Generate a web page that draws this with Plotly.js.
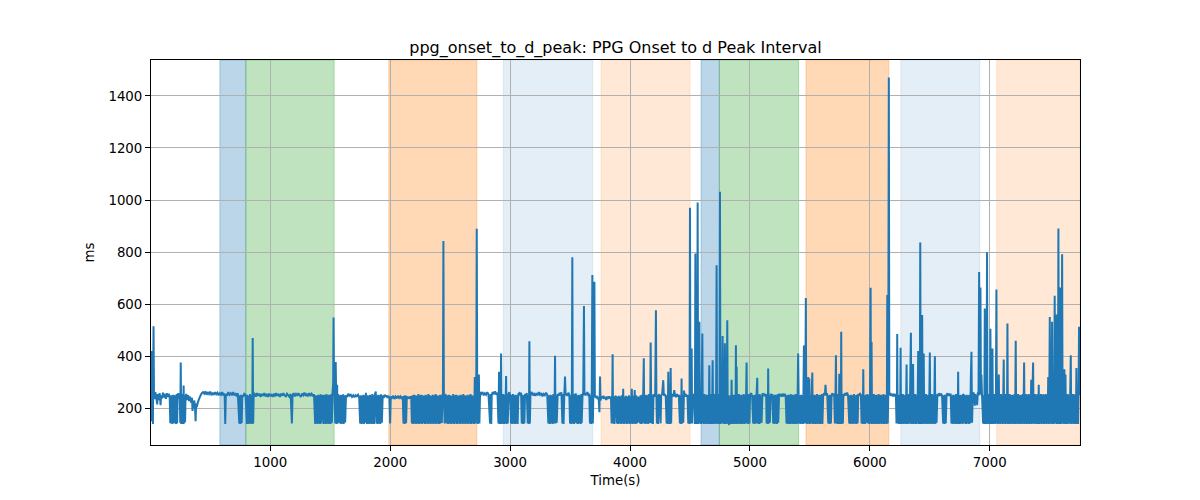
<!DOCTYPE html>
<html>
<head>
<meta charset="utf-8">
<script src="https://cdn.plot.ly/plotly-3.0.1.min.js"></script>
<style>html,body{margin:0;padding:0;background:#fff;}#chart{width:1200px;height:500px;}</style>
</head>
<body>
<div id="chart"></div>
<script>
// ---- Data (time in s, interval in ms) ----
const seg0000 = [[6,250],[10,150],[14,420],[18,255],[22,140],[27,515],[31,250],[36,235],[42,262],[50,240],[58,215],[62,255],[70,232],[78,258],[86,212],[90,250],[98,238],[106,260],[114,242],[122,255],[130,236],[138,258],[146,244],[154,256],[162,240],[167,143],[172,250],[176,142],[181,248],[186,140],[190,252],[194,145],[198,250],[204,238],[208,142],[212,250],[216,140],[220,255],[224,143],[228,246],[234,258],[240,236],[246,252],[250,145],[254,376],[258,140],[262,250],[266,142],[270,255],[274,140],[278,288],[282,142],[286,250],[290,146],[294,240],[300,255],[308,232],[316,250],[324,228],[332,245],[340,222],[348,240],[352,190],[356,225],[362,200],[366,230],[372,212],[378,150],[382,218],[388,205],[396,222],[404,232],[412,242],[420,250],[430,258],[440,262],[450,256],[460,265],[470,252],[480,262],[490,255],[500,264],[510,250],[520,260],[530,252],[540,262],[550,254],[560,260],[570,250],[580,258],[590,252],[600,262],[610,250],[620,256],[625,140],[630,255],[640,248],[650,262],[660,252],[670,258],[680,250],[690,262],[700,250],[710,258],[720,246],[730,258],[742,142],[746,250],[750,140],[756,252],[762,143],[767,250],[775,245],[785,258],[795,248],[806,140],[810,252],[815,142],[820,248],[826,140],[832,255],[838,142],[844,250],[850,140],[854,470],[858,142],[862,250],[870,255],[880,245],[890,258],[900,248],[910,256],[920,244],[930,255],[940,248],[950,258],[960,246],[970,255],[980,244],[990,256],[1000,248]];
const seg1000 = [[1010,252],[1020,244],[1030,256],[1040,246],[1050,258],[1060,248],[1070,255],[1080,244],[1090,256],[1100,248],[1110,258],[1120,250],[1130,246],[1140,256],[1150,250],[1160,244],[1170,255],[1181,142],[1186,250],[1195,258],[1205,246],[1215,255],[1225,248],[1235,258],[1245,250],[1255,244],[1265,256],[1275,250],[1285,260],[1295,248],[1305,254],[1315,246],[1325,258],[1335,250],[1345,256],[1355,246],[1365,254],[1375,140],[1380,250],[1385,142],[1390,248],[1395,140],[1400,252],[1405,143],[1410,250],[1415,140],[1420,254],[1425,142],[1431,250],[1438,246],[1444,140],[1449,252],[1454,142],[1459,250],[1464,140],[1469,255],[1474,143],[1479,250],[1484,140],[1489,252],[1494,142],[1499,250],[1504,140],[1509,255],[1514,145],[1520,262],[1525,300],[1528,549],[1532,280],[1536,260],[1542,142],[1546,378],[1550,250],[1554,140],[1558,290],[1562,142],[1566,255],[1569,146],[1575,250],[1583,142],[1588,252],[1593,140],[1598,250],[1603,142],[1608,254],[1613,140],[1618,250],[1625,146],[1632,250],[1642,244],[1652,256],[1662,248],[1672,252],[1682,244],[1692,250],[1702,242],[1712,250],[1722,246],[1732,252],[1742,242],[1750,142],[1755,250],[1760,140],[1766,248],[1771,142],[1776,252],[1781,140],[1786,250],[1792,145],[1798,260],[1806,140],[1811,250],[1816,142],[1821,248],[1826,140],[1831,252],[1836,142],[1841,250],[1846,140],[1851,255],[1856,142],[1861,250],[1866,140],[1872,252],[1880,264],[1886,142],[1891,250],[1896,140],[1902,252],[1907,142],[1912,250],[1918,140],[1924,254],[1931,145],[1938,250],[1946,240],[1954,252],[1962,244],[1970,250],[1978,240],[1986,248],[1994,238]];
const seg2000 = [[2000,142],[2005,245],[2015,240],[2025,248],[2035,236],[2045,245],[2055,238],[2065,248],[2075,240],[2085,246],[2095,236],[2105,245],[2111,142],[2116,248],[2121,140],[2127,250],[2133,143],[2139,246],[2147,236],[2155,244],[2163,238],[2171,246],[2176,238],[2181,142],[2187,250],[2193,140],[2199,252],[2205,142],[2211,250],[2217,140],[2223,248],[2229,142],[2235,255],[2241,140],[2247,250],[2253,142],[2259,252],[2265,140],[2271,250],[2277,143],[2283,248],[2289,140],[2295,252],[2301,142],[2307,250],[2313,140],[2319,255],[2325,142],[2331,250],[2337,140],[2343,248],[2349,142],[2355,252],[2361,140],[2367,250],[2373,142],[2379,255],[2385,140],[2391,250],[2397,142],[2403,248],[2409,140],[2415,252],[2421,142],[2427,250],[2431,144],[2436,255],[2440,246],[2444,843],[2448,250],[2454,142],[2460,255],[2466,246],[2472,142],[2478,250],[2484,140],[2490,252],[2496,142],[2502,250],[2508,140],[2514,248],[2520,142],[2526,255],[2532,140],[2538,250],[2544,142],[2550,252],[2556,140],[2562,250],[2568,142],[2574,248],[2580,140],[2586,252],[2592,142],[2598,250],[2604,140],[2610,255],[2616,142],[2622,250],[2628,140],[2634,248],[2640,142],[2646,252],[2652,140],[2658,250],[2664,142],[2670,255],[2676,140],[2682,250],[2688,142],[2694,248],[2700,140],[2706,320],[2712,142],[2718,280],[2722,890],[2726,250],[2730,140],[2736,258],[2740,330],[2744,142],[2750,262],[2760,255],[2770,262],[2780,250],[2790,258],[2800,252],[2810,262],[2820,254],[2833,142],[2838,255],[2843,140],[2847,250],[2855,262],[2865,256],[2875,265],[2885,252],[2895,260],[2903,142],[2908,340],[2913,140],[2918,252],[2922,142],[2925,410],[2929,140],[2934,250],[2939,142],[2944,255],[2949,140],[2954,250],[2959,142],[2964,260],[2967,324],[2971,140],[2976,250],[2981,142],[2986,255],[2993,262],[3000,250]];
const seg3000 = [[3008,142],[3013,252],[3018,140],[3024,255],[3029,142],[3035,250],[3040,140],[3046,252],[3052,142],[3058,250],[3063,140],[3069,255],[3077,258],[3085,250],[3092,260],[3097,142],[3102,252],[3107,140],[3113,250],[3119,142],[3125,255],[3132,250],[3140,258],[3147,142],[3152,250],[3157,140],[3161,458],[3165,142],[3170,255],[3180,262],[3190,250],[3200,256],[3210,248],[3220,258],[3230,250],[3240,262],[3250,252],[3260,258],[3270,246],[3280,255],[3290,250],[3300,260],[3310,252],[3319,142],[3325,250],[3331,140],[3337,252],[3343,142],[3349,250],[3355,140],[3361,255],[3367,142],[3372,250],[3375,402],[3379,142],[3384,250],[3389,145],[3397,255],[3405,248],[3413,260],[3421,250],[3428,262],[3436,142],[3441,255],[3446,140],[3452,250],[3458,322],[3463,250],[3470,256],[3478,248],[3486,260],[3494,252],[3500,142],[3505,250],[3510,140],[3515,252],[3519,780],[3523,142],[3528,250],[3533,140],[3537,255],[3541,145],[3548,258],[3555,142],[3560,250],[3565,140],[3571,252],[3577,142],[3583,250],[3589,140],[3594,255],[3597,144],[3604,250],[3610,262],[3616,593],[3620,250],[3628,258],[3636,250],[3644,262],[3652,252],[3660,256],[3666,142],[3671,250],[3676,140],[3681,252],[3686,712],[3690,142],[3694,250],[3699,256],[3703,686],[3707,250],[3714,240],[3722,248],[3730,235],[3738,244],[3745,185],[3750,322],[3754,230],[3762,245],[3770,238],[3778,248],[3786,236],[3794,244],[3802,232],[3810,245],[3818,236],[3826,246],[3834,238],[3841,244],[3847,142],[3852,245],[3855,408],[3859,142],[3864,245],[3869,140],[3875,242],[3882,248],[3889,142],[3895,245],[3901,140],[3907,248],[3913,142],[3919,245],[3925,140],[3931,250],[3937,142],[3943,275],[3949,140],[3955,245],[3961,142],[3967,248],[3973,140],[3979,245],[3985,142],[3991,250],[3997,140],[4003,245],[4009,142],[4015,275],[4021,140],[4027,248],[4033,142],[4039,270],[4045,140],[4051,250],[4057,142],[4063,245],[4069,146],[4076,245]];
const seg4000 = [[4083,142],[4088,250],[4093,140],[4099,252],[4104,142],[4110,250],[4115,392],[4119,142],[4125,250],[4130,140],[4136,252],[4141,142],[4147,250],[4152,140],[4158,255],[4164,144],[4169,250],[4172,453],[4176,250],[4180,142],[4186,250],[4191,140],[4196,255],[4203,245],[4210,255],[4216,577],[4220,250],[4224,142],[4229,250],[4234,140],[4240,255],[4247,245],[4255,142],[4260,250],[4268,255],[4277,308],[4282,248],[4290,255],[4298,245],[4305,142],[4310,250],[4315,140],[4319,340],[4323,142],[4328,250],[4333,140],[4339,355],[4343,142],[4347,250],[4354,255],[4362,245],[4369,270],[4375,250],[4383,243],[4391,255],[4399,245],[4407,252],[4416,142],[4421,250],[4426,140],[4430,314],[4434,142],[4439,250],[4444,145],[4450,268],[4458,245],[4465,255],[4472,244],[4479,252],[4486,142],[4491,250],[4496,140],[4500,970],[4504,142],[4509,250],[4514,430],[4518,142],[4524,255],[4530,245],[4536,256],[4541,140],[4545,795],[4549,142],[4553,250],[4557,140],[4561,300],[4564,991],[4568,140],[4573,250],[4578,532],[4582,142],[4587,250],[4592,140],[4597,255],[4603,487],[4607,142],[4612,250],[4617,140],[4622,255],[4627,142],[4632,250],[4637,140],[4642,252],[4647,142],[4652,250],[4657,140],[4661,365],[4665,142],[4670,250],[4675,140],[4680,255],[4684,142],[4689,385],[4693,140],[4698,250],[4703,142],[4708,255],[4713,140],[4718,250],[4722,750],[4726,142],[4731,250],[4736,140],[4741,255],[4746,142],[4750,1032],[4754,140],[4759,250],[4764,142],[4768,260],[4772,478],[4776,142],[4781,250],[4786,140],[4791,450],[4795,142],[4800,250],[4805,140],[4811,538],[4815,142],[4820,250],[4825,140],[4833,142],[4838,250],[4843,140],[4847,310],[4851,142],[4856,250],[4861,140],[4866,252],[4871,142],[4876,250],[4880,140],[4883,442],[4886,142],[4889,360],[4893,140],[4898,250],[4903,142],[4908,255],[4913,140],[4918,250],[4923,142],[4928,252],[4933,140],[4938,250],[4943,142],[4948,255],[4953,140],[4958,250],[4963,142],[4968,250],[4972,376],[4976,142],[4981,250],[4986,140],[4991,255],[4996,142],[5001,250]];
const seg5000 = [[5010,258],[5018,248],[5027,142],[5032,250],[5037,140],[5043,252],[5049,142],[5055,250],[5061,317],[5065,142],[5070,250],[5075,140],[5081,255],[5087,142],[5092,250],[5097,145],[5104,258],[5112,248],[5120,256],[5128,246],[5135,255],[5139,142],[5144,250],[5149,140],[5152,353],[5156,142],[5161,250],[5166,145],[5173,256],[5180,246],[5187,255],[5194,142],[5199,250],[5204,140],[5210,252],[5215,142],[5220,250],[5225,140],[5231,255],[5236,145],[5243,256],[5250,246],[5258,255],[5266,245],[5274,256],[5282,246],[5290,255],[5298,248],[5305,142],[5310,250],[5315,140],[5320,252],[5325,142],[5330,250],[5335,140],[5340,255],[5345,142],[5350,250],[5355,140],[5360,252],[5365,142],[5370,250],[5375,140],[5380,255],[5385,142],[5390,250],[5395,140],[5399,300],[5402,410],[5406,250],[5411,142],[5416,250],[5421,140],[5426,252],[5431,142],[5436,250],[5441,140],[5446,255],[5450,438],[5453,440],[5457,142],[5462,250],[5466,624],[5470,142],[5475,250],[5480,140],[5486,320],[5490,142],[5495,314],[5500,140],[5505,250],[5510,142],[5515,255],[5520,337],[5524,140],[5529,250],[5534,142],[5539,252],[5544,140],[5549,250],[5554,142],[5559,255],[5564,140],[5569,250],[5574,142],[5579,252],[5584,140],[5589,250],[5594,142],[5599,255],[5604,140],[5611,250],[5618,258],[5625,250],[5630,290],[5636,248],[5644,258],[5653,142],[5658,250],[5663,140],[5669,252],[5675,142],[5681,250],[5688,258],[5695,248],[5702,256],[5708,142],[5713,250],[5717,404],[5721,142],[5726,250],[5731,140],[5736,255],[5741,142],[5745,333],[5749,140],[5754,250],[5758,142],[5761,494],[5765,140],[5770,250],[5775,142],[5779,255],[5786,248],[5794,258],[5802,250],[5810,260],[5818,250],[5828,142],[5833,250],[5838,140],[5844,252],[5850,142],[5856,250],[5862,140],[5868,255],[5874,142],[5880,250],[5886,140],[5892,252],[5898,142],[5903,255],[5910,248],[5918,258],[5925,250],[5931,142],[5936,250],[5941,140],[5945,350],[5949,142],[5955,250],[5961,140],[5967,252],[5973,145],[5980,255],[5986,142],[5991,250],[5996,140],[6001,255],[6006,663],[6010,142],[6014,455],[6018,140],[6023,250],[6028,142],[6033,255],[6038,140],[6043,250],[6048,142],[6053,252],[6058,140],[6063,250],[6068,142],[6073,255],[6078,140],[6083,250],[6088,142],[6093,252],[6098,140],[6103,250],[6108,142],[6113,255],[6118,140],[6123,250],[6128,142],[6133,252],[6138,140],[6142,250],[6145,635],[6149,142],[6153,250],[6158,1471],[6162,250]];
const seg6000 = [[6170,258],[6178,248],[6186,256],[6194,246],[6202,255],[6210,246],[6217,256],[6222,142],[6226,250],[6228,485],[6232,142],[6237,250],[6242,140],[6247,252],[6252,142],[6256,433],[6260,140],[6265,250],[6270,142],[6275,255],[6280,140],[6285,250],[6290,142],[6295,252],[6300,140],[6306,368],[6310,142],[6315,250],[6320,140],[6325,255],[6330,142],[6335,250],[6342,490],[6346,140],[6351,250],[6356,142],[6360,370],[6364,140],[6369,250],[6374,142],[6379,255],[6384,140],[6389,250],[6394,142],[6399,255],[6403,420],[6407,140],[6412,250],[6416,142],[6420,837],[6424,140],[6429,250],[6433,142],[6436,558],[6440,140],[6445,250],[6449,410],[6453,142],[6458,250],[6463,140],[6468,255],[6473,142],[6478,250],[6483,140],[6488,252],[6493,142],[6500,414],[6504,140],[6509,250],[6514,142],[6519,255],[6524,140],[6529,250],[6534,142],[6538,255],[6542,400],[6546,140],[6551,250],[6556,145],[6563,256],[6570,246],[6578,258],[6586,248],[6594,256],[6602,248],[6611,142],[6616,250],[6621,140],[6627,252],[6633,142],[6639,250],[6646,258],[6653,248],[6660,256],[6667,248],[6674,256],[6680,142],[6685,250],[6690,140],[6696,252],[6702,142],[6708,250],[6713,140],[6718,255],[6722,142],[6727,250],[6732,140],[6736,340],[6740,142],[6745,250],[6750,140],[6756,252],[6762,142],[6768,250],[6773,140],[6777,255],[6784,250],[6791,142],[6796,250],[6801,140],[6807,252],[6813,142],[6819,250],[6824,140],[6830,252],[6836,142],[6842,320],[6847,417],[6852,145],[6858,255],[6866,260],[6875,210],[6880,255],[6885,215],[6890,250],[6894,212],[6900,258],[6906,262],[6911,724],[6915,250],[6918,300],[6922,664],[6926,255],[6930,330],[6935,250],[6944,142],[6949,250],[6954,140],[6958,583],[6962,142],[6967,250],[6972,140],[6977,799],[6981,142],[6986,250],[6991,140],[6996,255]];
const seg7000 = [[7001,142],[7005,506],[7009,140],[7014,250],[7018,142],[7022,430],[7026,140],[7031,250],[7036,142],[7041,255],[7046,140],[7051,250],[7055,656],[7059,142],[7064,250],[7069,140],[7075,330],[7079,142],[7084,250],[7089,140],[7094,255],[7099,142],[7104,250],[7109,140],[7116,387],[7120,142],[7125,250],[7130,140],[7135,255],[7140,142],[7144,250],[7147,526],[7151,140],[7156,250],[7161,142],[7166,255],[7171,140],[7176,250],[7181,142],[7186,252],[7191,140],[7196,250],[7201,142],[7206,255],[7211,140],[7216,459],[7220,142],[7225,250],[7230,140],[7235,255],[7240,142],[7245,250],[7250,140],[7255,252],[7260,142],[7265,250],[7270,140],[7275,255],[7280,142],[7286,376],[7290,140],[7295,250],[7300,142],[7305,255],[7310,140],[7315,250],[7320,142],[7325,255],[7330,140],[7335,250],[7340,142],[7345,310],[7350,140],[7355,250],[7361,376],[7365,142],[7370,250],[7375,140],[7380,255],[7385,142],[7390,250],[7395,140],[7400,255],[7404,142],[7408,290],[7412,140],[7417,250],[7422,142],[7427,255],[7432,140],[7437,250],[7442,142],[7447,255],[7452,140],[7457,250],[7462,142],[7467,255],[7472,140],[7477,250],[7482,142],[7487,320],[7491,140],[7496,250],[7500,551],[7504,142],[7509,250],[7514,140],[7519,532],[7523,142],[7528,250],[7533,140],[7537,255],[7541,632],[7545,142],[7550,250],[7555,560],[7559,140],[7564,250],[7568,142],[7572,891],[7576,140],[7581,250],[7585,142],[7589,664],[7593,140],[7598,250],[7603,792],[7607,142],[7612,250],[7617,140],[7622,350],[7626,142],[7631,330],[7635,140],[7640,250],[7645,142],[7650,255],[7655,140],[7660,250],[7665,142],[7670,255],[7675,404],[7679,140],[7684,250],[7689,142],[7694,255],[7699,140],[7704,250],[7709,142],[7714,255],[7718,140],[7722,355],[7726,142],[7731,250],[7736,140],[7740,255],[7744,513],[7748,250]];

// Shaded phase regions (start s, end s, colour)
const regionStart = [580, 797, 1989, 2944, 3758, 4592, 4745, 5467, 6258, 7058];
const regionEnd   = [797, 1533, 2723, 3689, 4500, 4745, 5406, 6158, 6917, 7752];
const regionColor = [
  'rgba(31,119,180,0.3)', 'rgba(44,160,44,0.3)', 'rgba(255,127,14,0.3)',
  'rgba(31,119,180,0.12)', 'rgba(255,127,14,0.17)',
  'rgba(31,119,180,0.3)', 'rgba(44,160,44,0.3)', 'rgba(255,127,14,0.3)',
  'rgba(31,119,180,0.12)', 'rgba(255,127,14,0.17)'
];

const xTicks = [1000, 2000, 3000, 4000, 5000, 6000, 7000];
const yTicks = [200, 400, 600, 800, 1000, 1200, 1400];
const xRange = [6, 7752];
const yRange = [59, 1538];

// ---- Build trace ----
const all = [].concat(seg0000, seg1000, seg2000, seg3000, seg4000, seg5000, seg6000, seg7000);
const xs = all.map(p => p[0]);
const ys = all.map(p => p[1]);

const shapes = regionStart.map((s, i) => ({
  type: 'rect', xref: 'x', yref: 'paper',
  x0: s, x1: regionEnd[i], y0: 0, y1: 1,
  fillcolor: regionColor[i],
  line: {color: regionColor[i], width: 1},
  layer: 'below'
}));

const font = {family: 'DejaVu Sans, sans-serif', size: 13.33, color: '#000'};

const layout = {
  width: 1200, height: 500,
  margin: {l: 151, r: 120, t: 60, b: 55, pad: 0},
  paper_bgcolor: '#fff', plot_bgcolor: 'rgba(0,0,0,0)',
  showlegend: false,
  font: font,
  title: {
    text: 'ppg_onset_to_d_peak: PPG Onset to d Peak Interval',
    font: {family: 'DejaVu Sans, sans-serif', size: 16, color: '#000'},
    x: 0.5, xref: 'paper', xanchor: 'center',
    y: 1, yref: 'paper', yanchor: 'bottom', pad: {b: 7}
  },
  xaxis: {
    range: xRange, tickvals: xTicks, ticktext: xTicks.map(String),
    showgrid: true, gridcolor: '#b0b0b0', gridwidth: 1,
    zeroline: false, showline: true, linecolor: '#000', linewidth: 1, mirror: true,
    ticks: 'outside', ticklen: 5, tickwidth: 1, tickcolor: '#000',
    tickfont: font,
    title: {text: 'Time(s)', font: font, standoff: 6}
  },
  yaxis: {
    range: yRange, tickvals: yTicks, ticktext: yTicks.map(String),
    showgrid: true, gridcolor: '#b0b0b0', gridwidth: 1,
    zeroline: false, showline: true, linecolor: '#000', linewidth: 1, mirror: true,
    ticks: 'outside', ticklen: 5, tickwidth: 1, tickcolor: '#000',
    tickfont: font,
    title: {text: 'ms', font: font, standoff: 10}
  },
  shapes: shapes
};

Plotly.newPlot('chart', [{
  type: 'scatter', mode: 'lines', x: xs, y: ys,
  line: {color: '#1f77b4', width: 2, simplify: false},
  hoverinfo: 'skip'
}], layout, {staticPlot: true, displayModeBar: false});
</script>
</body>
</html>
